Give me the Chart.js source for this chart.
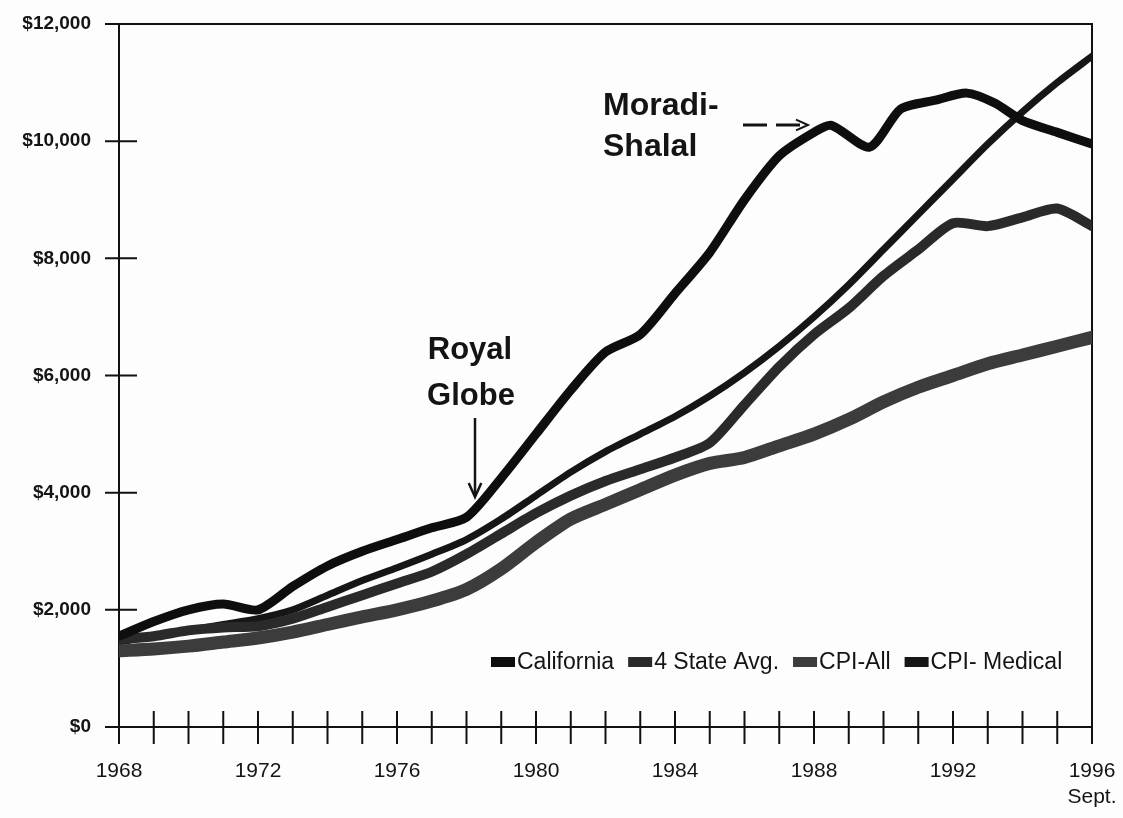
<!DOCTYPE html>
<html>
<head>
<meta charset="utf-8">
<script src="https://cdn.jsdelivr.net/npm/chart.js@4.4.1/dist/chart.umd.min.js"></script>
<style>
  html, body { margin: 0; padding: 0; background: #fdfdfd; }
  #wrap { width: 1123px; height: 818px; }
</style>
</head>
<body>
<div id="wrap"><canvas id="LineChart" width="1123" height="818"></canvas></div>
<script>
// values (dollars per claim)
const calYears = [1968, 1969, 1970, 1971, 1972, 1973, 1974, 1975, 1976, 1977, 1978, 1979, 1980, 1981, 1982, 1983, 1984, 1985, 1986, 1987, 1988, 1988.5, 1989.6, 1990.5, 1991.5, 1992.4, 1993.2, 1994, 1995, 1996];
const calValues = [1550, 1800, 2000, 2100, 2000, 2400, 2750, 3000, 3200, 3400, 3580, 4250, 5000, 5750, 6400, 6700, 7400, 8100, 9000, 9750, 10150, 10270, 9900, 10550, 10700, 10820, 10650, 10350, 10150, 9950];

const years = [1968, 1969, 1970, 1971, 1972, 1973, 1974, 1975, 1976, 1977, 1978, 1979, 1980, 1981, 1982, 1983, 1984, 1985, 1986, 1987, 1988, 1989, 1990, 1991, 1992, 1993, 1994, 1995, 1996];
const stateAvgValues = [1500, 1550, 1650, 1700, 1720, 1850, 2050, 2250, 2450, 2650, 2950, 3300, 3650, 3950, 4200, 4400, 4600, 4850, 5500, 6150, 6700, 7150, 7700, 8150, 8600, 8550, 8700, 8850, 8550];
const cpiAllValues = [1300, 1330, 1380, 1450, 1520, 1620, 1750, 1880, 2000, 2150, 2350, 2700, 3150, 3550, 3800, 4050, 4300, 4500, 4600, 4800, 5000, 5250, 5550, 5800, 6000, 6200, 6350, 6500, 6650];
const cpiMedValues = [1450, 1550, 1650, 1750, 1850, 2000, 2250, 2500, 2720, 2950, 3200, 3550, 3950, 4350, 4700, 5000, 5300, 5650, 6050, 6500, 7000, 7550, 8150, 8750, 9350, 9950, 10500, 11000, 11450];

const seriesLabels = ['California', '4 State Avg.', 'CPI-All', 'CPI- Medical'];
const yTicks = [0, 2000, 4000, 6000, 8000, 10000, 12000];
const labelYears = [1968, 1972, 1976, 1980, 1984, 1988, 1992, 1996];

const FONT = '"Liberation Sans", Arial, sans-serif';

function toPoints(xs, ys) {
  return xs.map((x, i) => ({ x: x, y: ys[i] }));
}

// frame, cross-shaped tick marks
const framePlugin = {
  id: 'frame',
  beforeDatasetsDraw(chart) {
    const ctx = chart.ctx;
    const a = chart.chartArea;
    const xs = chart.scales.x, ys = chart.scales.y;
    ctx.save();
    ctx.strokeStyle = '#111';
    ctx.lineWidth = 2;
    ctx.beginPath();
    ctx.moveTo(a.left - 6, a.top);
    ctx.lineTo(a.right, a.top);
    ctx.lineTo(a.right, a.bottom + 17);
    ctx.stroke();
    ctx.beginPath();
    yTicks.forEach(v => {
      const py = ys.getPixelForValue(v);
      ctx.moveTo(a.left - 14, py);
      ctx.lineTo(a.left + (v === 12000 ? 0 : 18), py);
    });
    for (let yr = 1968; yr <= 1996; yr++) {
      const px = xs.getPixelForValue(yr);
      ctx.moveTo(px, a.bottom - 16);
      ctx.lineTo(px, a.bottom + 17);
    }
    ctx.stroke();
    ctx.restore();
  }
};

function arrowHead(ctx, x, y, dir, size) {
  ctx.beginPath();
  if (dir === 'down') {
    ctx.moveTo(x - size * 0.45, y - size);
    ctx.lineTo(x, y);
    ctx.lineTo(x + size * 0.45, y - size);
  } else {
    ctx.moveTo(x - size, y - size * 0.45);
    ctx.lineTo(x, y);
    ctx.lineTo(x - size, y + size * 0.45);
  }
  ctx.stroke();
}

// notes and legend inside the plot
const notesPlugin = {
  id: 'notes',
  afterDraw(chart) {
    const ctx = chart.ctx;
    ctx.save();
    ctx.fillStyle = '#141414';
    ctx.strokeStyle = '#141414';
    ctx.font = 'bold 31px ' + FONT;
    ctx.textBaseline = 'middle';
    ctx.textAlign = 'center';
    ctx.fillText('Royal', 470, 350);
    ctx.fillText('Globe', 471, 396);
    ctx.lineWidth = 2.5;
    ctx.beginPath();
    ctx.moveTo(475, 418);
    ctx.lineTo(475, 496);
    ctx.stroke();
    arrowHead(ctx, 475, 497, 'down', 14);

    ctx.textAlign = 'left';
    ctx.font = 'bold 32px ' + FONT;
    ctx.fillText('Moradi-', 603, 106);
    ctx.fillText('Shalal', 603, 147);
    ctx.lineWidth = 3;
    ctx.setLineDash([24, 9]);
    ctx.beginPath();
    ctx.moveTo(743, 125);
    ctx.lineTo(806, 125);
    ctx.stroke();
    ctx.setLineDash([]);
    ctx.lineWidth = 2;
    arrowHead(ctx, 808, 125, 'right', 12);

    // legend
    ctx.font = '23px ' + FONT;
    let x = 491;
    const y = 662;
    chart.data.datasets.forEach(ds => {
      ctx.fillStyle = ds.borderColor;
      ctx.fillRect(x, y - 5, 24, 10);
      x += 26;
      ctx.fillStyle = '#141414';
      ctx.fillText(ds.label, x, y + 1);
      x += ctx.measureText(ds.label).width + 14;
    });
    ctx.restore();
  }
};

const data = {
  datasets: [
    {
      label: seriesLabels[0],
      data: toPoints(calYears, calValues),
      borderColor: '#0e0e0e',
      borderWidth: 9
    },
    {
      label: seriesLabels[1],
      data: toPoints(years, stateAvgValues),
      borderColor: '#2a2a2a',
      borderWidth: 10
    },
    {
      label: seriesLabels[2],
      data: toPoints(years, cpiAllValues),
      borderColor: '#3c3c3c',
      borderWidth: 13
    },
    {
      label: seriesLabels[3],
      data: toPoints(years, cpiMedValues),
      borderColor: '#161616',
      borderWidth: 7
    }
  ]
};

const config = {
  type: 'line',
  data: data,
  options: {
    responsive: false,
    animation: false,
    layout: { padding: { top: 24, right: 31, left: 0, bottom: 0 } },
    elements: {
      point: { radius: 0 },
      line: { tension: 0.25, borderCapStyle: 'round', borderJoinStyle: 'round' }
    },
    plugins: {
      legend: { display: false },
      tooltip: { enabled: false }
    },
    scales: {
      x: {
        type: 'linear',
        min: 1968,
        max: 1996,
        afterFit: s => { s.height = 91; s.paddingLeft = 0; s.paddingRight = 0; },
        grid: { display: false },
        border: { display: true, color: '#111', width: 2 },
        ticks: {
          stepSize: 1,
          autoSkip: false,
          maxTicksLimit: 40,
          maxRotation: 0,
          padding: 24,
          color: '#141414',
          font: { family: FONT, size: 21 },
          callback: v => labelYears.includes(v) ? (v === 1996 ? ['1996', 'Sept.'] : String(v)) : ''
        }
      },
      y: {
        min: 0,
        max: 12000,
        afterFit: s => { s.width = 119; s.paddingTop = 0; s.paddingBottom = 0; },
        grid: { display: false },
        border: { display: true, color: '#111', width: 2 },
        ticks: {
          stepSize: 2000,
          padding: 20,
          color: '#141414',
          font: { family: FONT, size: 19, weight: 'bold' },
          callback: v => '$' + v.toLocaleString('en-US')
        }
      }
    }
  },
  plugins: [framePlugin, notesPlugin]
};

const lineCtx = document.getElementById('LineChart').getContext('2d');
new Chart(lineCtx, config);
</script>
</body>
</html>
